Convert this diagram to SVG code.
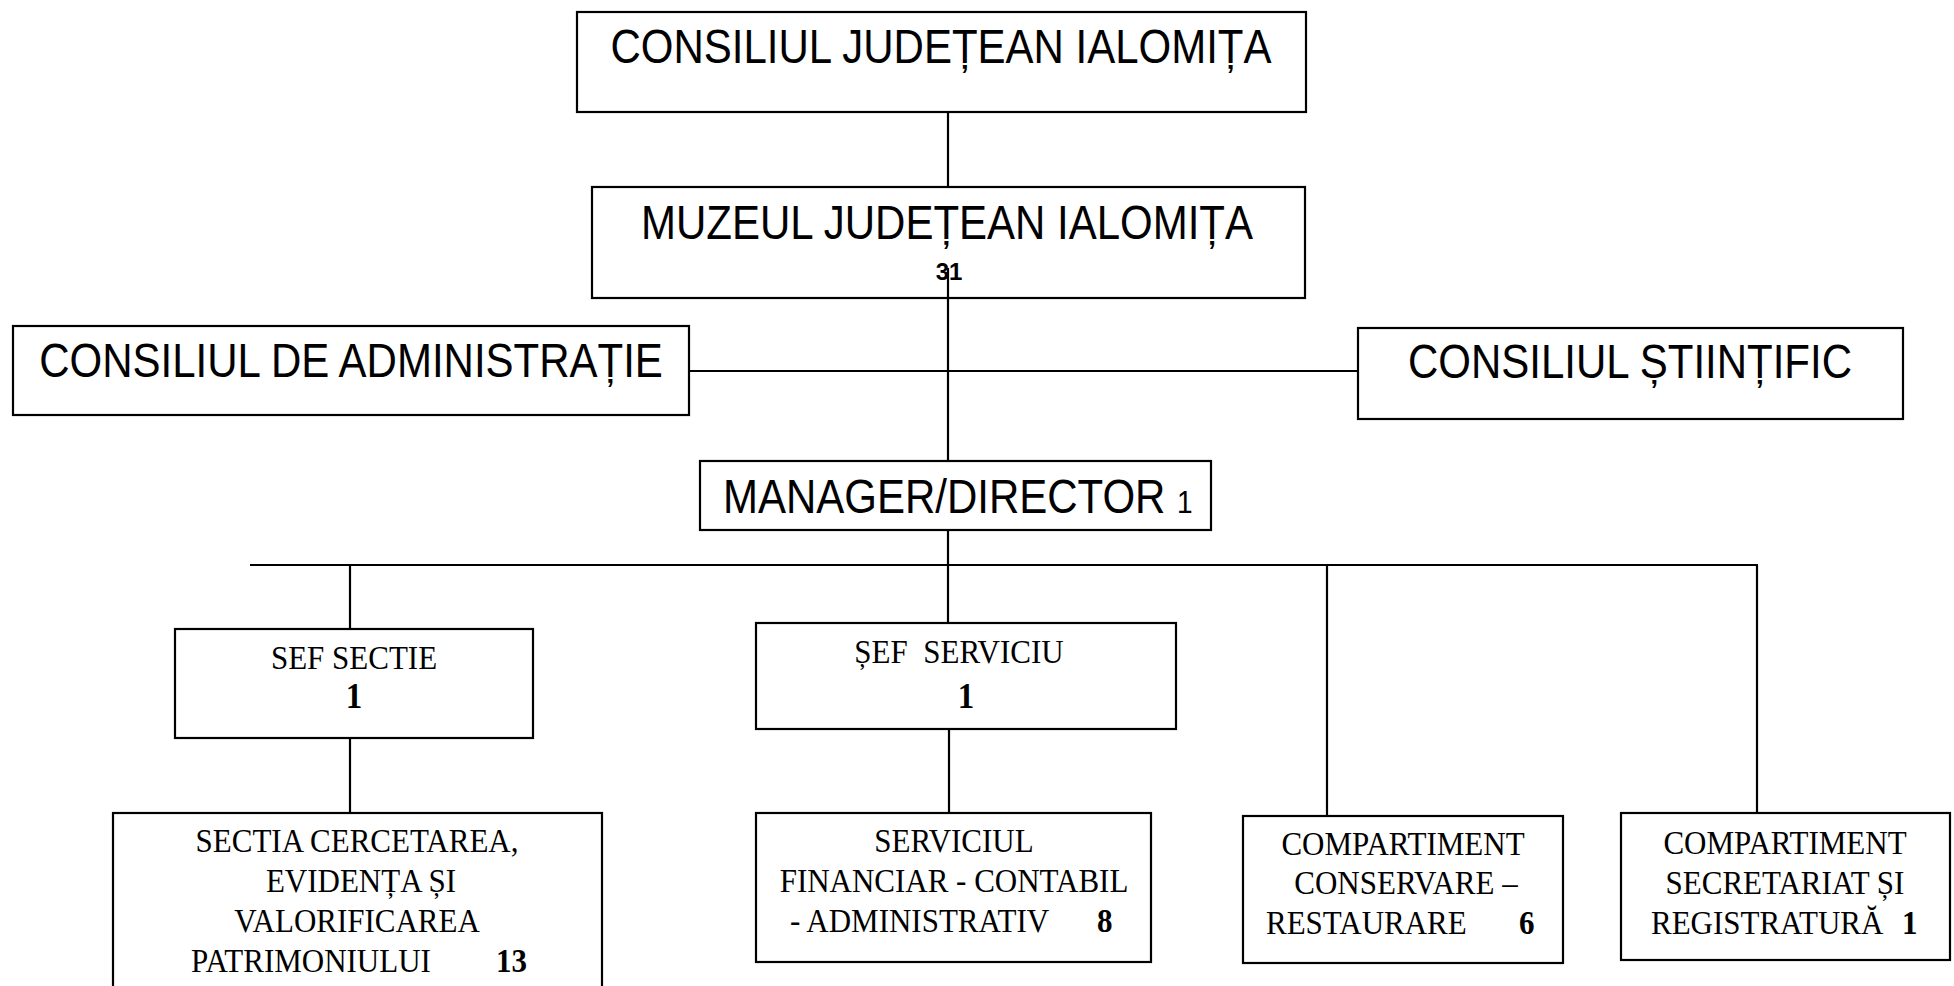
<svg xmlns="http://www.w3.org/2000/svg" width="1954" height="986" viewBox="0 0 1954 986">
<style>
.box{fill:#fff;stroke:#000;stroke-width:2.2}
.ln{stroke:#000;stroke-width:2.2;fill:none}
.sans{font-family:"Liberation Sans",Arial,sans-serif;font-size:42px;fill:#000}
.serif{font-family:"Liberation Serif","Times New Roman",serif;font-size:31px;fill:#000}
.b{font-weight:bold}
</style>
<rect width="1954" height="986" fill="#fff"/>
<g id="connectors">
<line class="ln" x1="948" y1="112" x2="948" y2="187"/>
<line class="ln" x1="948" y1="268" x2="948" y2="461"/>
<line class="ln" x1="689" y1="371" x2="1358" y2="371"/>
<line class="ln" x1="948" y1="530" x2="948" y2="623"/>
<line class="ln" x1="250" y1="565" x2="1758" y2="565"/>
<line class="ln" x1="350" y1="565" x2="350" y2="629"/>
<line class="ln" x1="1327" y1="565" x2="1327" y2="816"/>
<line class="ln" x1="1757" y1="565" x2="1757" y2="813"/>
<line class="ln" x1="350" y1="738" x2="350" y2="813"/>
<line class="ln" x1="949" y1="729" x2="949" y2="813"/>
</g>
<g id="consiliul-judetean">
<rect class="box" x="577" y="12" width="729" height="100"/>
<text class="sans" transform="translate(941,63) scale(1,1.13)" text-anchor="middle">CONSILIUL JUDEȚEAN IALOMIȚA</text>
</g>
<g id="muzeul">
<rect class="box" x="592" y="187" width="713" height="111" style="fill:none"/>
<text class="sans" transform="translate(947,239) scale(1,1.13)" text-anchor="middle">MUZEUL JUDEȚEAN IALOMIȚA</text>
<text class="sans b" x="949" y="280" text-anchor="middle" style="font-size:24px">31</text>
</g>
<g id="consiliul-administratie">
<rect class="box" x="13" y="326" width="676" height="89"/>
<text class="sans" transform="translate(351,377) scale(1,1.13)" text-anchor="middle">CONSILIUL DE ADMINISTRAȚIE</text>
</g>
<g id="consiliul-stiintific">
<rect class="box" x="1358" y="328" width="545" height="91"/>
<text class="sans" transform="translate(1630,378) scale(1,1.13)" text-anchor="middle">CONSILIUL ȘTIINȚIFIC</text>
</g>
<g id="manager">
<rect class="box" x="700" y="461" width="511" height="69"/>
<text class="sans" transform="translate(723,513) scale(1,1.13)">MANAGER/DIRECTOR <tspan style="font-size:28px">1</tspan></text>
</g>
<g id="sef-sectie">
<rect class="box" x="175" y="629" width="358" height="109"/>
<text class="serif" transform="translate(354,669) scale(1,1.08)" text-anchor="middle">SEF SECTIE</text>
<text class="serif b" transform="translate(354,708) scale(1,1.08)" text-anchor="middle" style="font-size:33px">1</text>
</g>
<g id="sef-serviciu">
<rect class="box" x="756" y="623" width="420" height="106"/>
<text class="serif" transform="translate(959,663) scale(1,1.08)" text-anchor="middle" xml:space="preserve">ȘEF  SERVICIU</text>
<text class="serif b" transform="translate(966,708) scale(1,1.08)" text-anchor="middle" style="font-size:33px">1</text>
</g>
<g id="sectia-cercetarea">
<rect class="box" x="113" y="813" width="489" height="190"/>
<text class="serif" transform="translate(357,852) scale(1,1.08)" text-anchor="middle">SECTIA CERCETAREA,</text>
<text class="serif" transform="translate(361,892) scale(1,1.08)" text-anchor="middle">EVIDENȚA ȘI</text>
<text class="serif" transform="translate(357,932) scale(1,1.08)" text-anchor="middle">VALORIFICAREA</text>
<text class="serif" transform="translate(191,972) scale(1,1.08)">PATRIMONIULUI</text>
<text class="serif b" transform="translate(496,972) scale(1,1.08)">13</text>
</g>
<g id="serviciul-financiar">
<rect class="box" x="756" y="813" width="395" height="149"/>
<text class="serif" transform="translate(954,852) scale(1,1.08)" text-anchor="middle">SERVICIUL</text>
<text class="serif" transform="translate(954,892) scale(1,1.08)" text-anchor="middle">FINANCIAR - CONTABIL</text>
<text class="serif" transform="translate(790,932) scale(1,1.08)">- ADMINISTRATIV</text>
<text class="serif b" transform="translate(1097,932) scale(1,1.08)">8</text>
</g>
<g id="compartiment-conservare">
<rect class="box" x="1243" y="816" width="320" height="147"/>
<text class="serif" transform="translate(1403,855) scale(1,1.08)" text-anchor="middle">COMPARTIMENT</text>
<text class="serif" transform="translate(1406,894) scale(1,1.08)" text-anchor="middle">CONSERVARE –</text>
<text class="serif" transform="translate(1266,934) scale(1,1.08)">RESTAURARE</text>
<text class="serif b" transform="translate(1519,934) scale(1,1.08)">6</text>
</g>
<g id="compartiment-secretariat">
<rect class="box" x="1621" y="813" width="329" height="147"/>
<text class="serif" transform="translate(1785,854) scale(1,1.08)" text-anchor="middle">COMPARTIMENT</text>
<text class="serif" transform="translate(1785,894) scale(1,1.08)" text-anchor="middle">SECRETARIAT ȘI</text>
<text class="serif" transform="translate(1651,934) scale(1,1.08)">REGISTRATURĂ</text>
<text class="serif b" transform="translate(1902,934) scale(1,1.08)">1</text>
</g>
</svg>
